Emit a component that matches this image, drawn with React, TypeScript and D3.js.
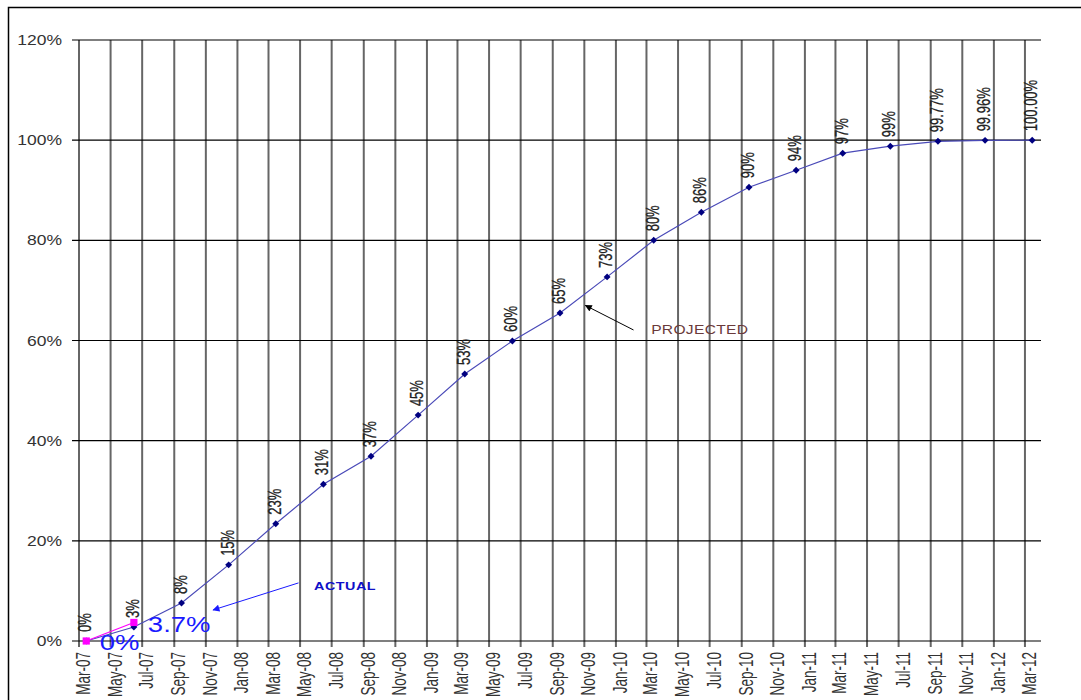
import React from "react";
import * as d3 from "d3";

// quarterly points (plotted mid-month)
const quarters = [
  "Mar-07", "Jun-07", "Sep-07", "Dec-07", "Mar-08", "Jun-08", "Sep-08",
  "Dec-08", "Mar-09", "Jun-09", "Sep-09", "Dec-09", "Mar-10", "Jun-10",
  "Sep-10", "Dec-10", "Mar-11", "Jun-11", "Sep-11", "Dec-11", "Mar-12",
];
const projectedValues = [
  0, 2.8, 7.6, 15.2, 23.4, 31.3, 36.9, 45.1, 53.3, 59.9, 65.5, 72.7, 80.0,
  85.6, 90.6, 94.0, 97.4, 98.8, 99.77, 99.96, 100,
];
const projectedLabels = [
  "0%", "3%", "8%", "15%", "23%", "31%", "37%", "45%", "53%", "60%", "65%",
  "73%", "80%", "86%", "90%", "94%", "97%", "99%", "99.77%", "99.96%",
  "100.00%",
];
const actualQuarters = ["Mar-07", "Jun-07"];
const actualValues = [0, 3.7];
const actualLabels = ["0%", "3.7%"];

const W = 1081;
const H = 700;
const FONT = "'Liberation Sans', Arial, sans-serif";
const SX = 1.25; // the original is stretched horizontally
const SXR = 1.45; // same, for rotated text

const parse = d3.timeParse("%b-%y");
const mid = (s: string) => d3.timeDay.offset(parse(s) as Date, 14);

const x = d3
  .scaleTime()
  .domain([new Date(2007, 2, 1), new Date(2012, 3, 1)])
  .range([79, 1041]);
const y = d3.scaleLinear().domain([0, 120]).range([641, 40]);

const App: React.FC = () => {
  const xTicks = x.ticks(d3.timeMonth.every(2) as d3.TimeInterval).filter(
    (d) => d < new Date(2012, 3, 1)
  );
  const yTicks = d3.range(0, 121, 20);
  const fmtX = d3.timeFormat("%b-%y");

  const line = d3
    .line<[Date, number]>()
    .x((d) => x(d[0]))
    .y((d) => y(d[1]));

  const projected: [Date, number][] = quarters.map((q, i) => [
    mid(q),
    projectedValues[i],
  ]);
  const actual: [Date, number][] = actualQuarters.map((q, i) => [
    mid(q),
    actualValues[i],
  ]);

  const diamond = d3.symbol().type(d3.symbolSquare).size(24)();
  const square = d3.symbol().type(d3.symbolSquare).size(52)();

  // annotation anchors, in data terms
  const actualArrow = [
    [new Date(2008, 3, 28), 11.6],
    [new Date(2007, 10, 15), 6.2],
  ] as [Date, number][];
  const projArrow = [
    [new Date(2010, 1, 4), 62.1],
    [new Date(2009, 10, 3), 67.0],
  ] as [Date, number][];

  return (
    <svg
      width={W}
      height={H}
      style={{ position: "absolute", left: 0, top: 0, background: "#fff" }}
      fontFamily={FONT}
    >
      <defs>
        <marker
          id="headBlue"
          viewBox="0 0 10 10"
          refX="9"
          refY="5"
          markerWidth="9"
          markerHeight="7"
          orient="auto"
          markerUnits="userSpaceOnUse"
        >
          <path d="M0,0 L10,5 L0,10 z" fill="#1a1aff" />
        </marker>
        <marker
          id="headBlack"
          viewBox="0 0 10 10"
          refX="9"
          refY="5"
          markerWidth="9"
          markerHeight="7"
          orient="auto"
          markerUnits="userSpaceOnUse"
        >
          <path d="M0,0 L10,5 L0,10 z" fill="#000" />
        </marker>
      </defs>

      <rect x={8.5} y={7.5} width={1080} height={800} fill="none" stroke="#000" strokeWidth={1.5} />

      {/* vertical grid */}
      {xTicks.map((d, i) => (
        <line
          key={"vx" + i}
          x1={x(d)}
          x2={x(d)}
          y1={y(120)}
          y2={y(0) + 6}
          stroke="#666"
          strokeWidth={2}
        />
      ))}
      {/* horizontal grid */}
      {yTicks.map((v) => (
        <line
          key={"hy" + v}
          x1={72}
          x2={1041}
          y1={y(v)}
          y2={y(v)}
          stroke="#000"
          strokeWidth={1.2}
        />
      ))}

      {/* y labels */}
      {yTicks.map((v) => (
        <text
          key={"ty" + v}
          transform={`translate(62,${y(v) + 5}) scale(${SX},1)`}
          textAnchor="end"
          fontSize={14}
          fill="#333"
        >
          {v}%
        </text>
      ))}

      {/* x labels */}
      {xTicks.map((d, i) => (
        <text
          key={"tx" + i}
          transform={`translate(${x(d) + 11},652) scale(${SXR},1) rotate(-90)`}
          textAnchor="end"
          fontSize={13.5}
          fill="#333"
        >
          {fmtX(d)}
        </text>
      ))}

      {/* projected series */}
      <path d={line(projected) || ""} fill="none" stroke="#4a4ab8" strokeWidth={1.2} />
      {projected.map((d, i) => (
        <path
          key={"pm" + i}
          d={diamond || ""}
          transform={`translate(${x(d[0])},${y(d[1])}) rotate(45)`}
          fill="#000080"
        />
      ))}
      {projected.map((d, i) => (
        <text
          key={"pl" + i}
          transform={`translate(${x(d[0]) + 5},${y(d[1]) - 9}) scale(${SXR},1) rotate(-90)`}
          fontSize={13}
          fill="#222"
          stroke="#222"
          strokeWidth={0.2}
        >
          {projectedLabels[i]}
        </text>
      ))}

      {/* actual series */}
      <path d={line(actual) || ""} fill="none" stroke="#ff00ff" strokeWidth={1.2} />
      {actual.map((d, i) => (
        <path
          key={"am" + i}
          d={square || ""}
          transform={`translate(${x(d[0])},${y(d[1])})`}
          fill="#ff00ff"
        />
      ))}
      <text
        transform={`translate(${x(new Date(2007, 3, 10))},${y(-1.8)}) scale(${SX},1)`}
        fontSize={22}
        fill="#1a1aff"
      >
        {actualLabels[0]}
      </text>
      <text
        transform={`translate(${x(new Date(2007, 6, 12))},${y(1.8)}) scale(${SX},1)`}
        fontSize={22}
        fill="#1a1aff"
      >
        {actualLabels[1]}
      </text>

      {/* annotations */}
      <line
        x1={x(actualArrow[0][0])}
        y1={y(actualArrow[0][1])}
        x2={x(actualArrow[1][0])}
        y2={y(actualArrow[1][1])}
        stroke="#1a1aff"
        strokeWidth={1}
        markerEnd="url(#headBlue)"
      />
      <text
        transform={`translate(${x(new Date(2008, 4, 28))},${y(10.2)}) scale(${SX},1)`}
        fontSize={11.5}
        fontWeight="bold"
        letterSpacing={0.4}
        fill="#1010c8"
      >
        ACTUAL
      </text>
      <line
        x1={x(projArrow[0][0])}
        y1={y(projArrow[0][1])}
        x2={x(projArrow[1][0])}
        y2={y(projArrow[1][1])}
        stroke="#000"
        strokeWidth={1}
        markerEnd="url(#headBlack)"
      />
      <text
        transform={`translate(${x(new Date(2010, 2, 10))},${y(61.3)}) scale(${SX},1)`}
        fontSize={12.5}
        letterSpacing={0.25}
        fill="#6a3a3a"
      >
        PROJECTED
      </text>
    </svg>
  );
};

export default App;
